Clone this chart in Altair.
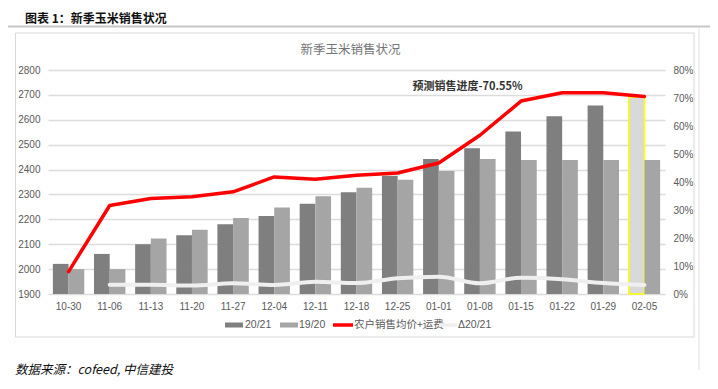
import altair as alt
import pandas as pd

# ---------------- data ----------------
dates = ["10-30", "11-06", "11-13", "11-20", "11-27", "12-04", "12-11", "12-18",
         "12-25", "01-01", "01-08", "01-15", "01-22", "01-29", "02-05"]
s2021 = [2021, 2061, 2100, 2136, 2180, 2213, 2263, 2309, 2375, 2442, 2486, 2553, 2614, 2657, 2692]
s1920 = [2000, 2000, 2123, 2158, 2205, 2248, 2293, 2327, 2359, 2394, 2442, 2438, 2438, 2438, 2438]
farm_price = [0.080, 0.316, 0.341, 0.347, 0.365, 0.418, 0.410, 0.424, 0.432, 0.468,
              0.567, 0.689, 0.719, 0.719, 0.7055]
delta = [None, 0.033, 0.033, 0.030, 0.038, 0.032, 0.044, 0.039, 0.056, 0.062,
         0.038, 0.058, 0.053, 0.039, 0.032]
series_names = ["20/21", "19/20", "农户销售均价+运费", "Δ20/21"]
left_ticks = [1900, 2000, 2100, 2200, 2300, 2400, 2500, 2600, 2700, 2800]
right_ticks = [0, 0.1, 0.2, 0.3, 0.4, 0.5, 0.6, 0.7, 0.8]

header = "图表 1：新季玉米销售状况"
chart_title = "新季玉米销售状况"
annotation = "预测销售进度-70.55%"
source = "数据来源：cofeed,  中信建投"

# ---------------- tables ----------------
rows = []
for d, a, b in zip(dates, s2021, s1920):
    rows.append({"date": d, "series": "20/21", "value": a,
                 "key": "forecast" if d == "02-05" else "20/21"})
    rows.append({"date": d, "series": "19/20", "value": b, "key": "19/20"})
bars_df = pd.DataFrame(rows)
lines_df = pd.DataFrame({"date": dates, "red": farm_price, "delta": delta})

W, H = 617, 224
CJK = "Noto Sans CJK SC"
LAT = "Liberation Sans"
LBL = "#595959"

x_scale = alt.Scale(domain=dates, paddingInner=0.237, paddingOuter=0.1185)
x_axis = alt.Axis(title=None, labelAngle=0, ticks=False, domain=False, labelPadding=7,
                  labelFontSize=10, labelColor=LBL, labelFont=LAT, grid=False)

bars = alt.Chart(bars_df).mark_bar(strokeWidth=1.5).encode(
    x=alt.X("date:N", sort=dates, scale=x_scale, axis=x_axis),
    xOffset=alt.XOffset("series:N", sort=["20/21", "19/20"],
                        scale=alt.Scale(domain=["20/21", "19/20"], paddingInner=0, paddingOuter=0)),
    y=alt.Y("value:Q", scale=alt.Scale(domain=[1900, 2800], zero=False, nice=False),
            axis=alt.Axis(values=left_ticks, format="d", title=None, ticks=False, domain=False,
                          gridColor="#dcdcdc", gridWidth=1.5, labelColor=LBL, labelFont=LAT,
                          labelFontSize=10, labelPadding=8, orient="left")),
    y2=alt.datum(1900),
    fill=alt.Fill("key:N", scale=alt.Scale(domain=["20/21", "19/20", "forecast"],
                                           range=["#7f7f7f", "#a5a5a5", "#d9d9d9"]), legend=None),
    stroke=alt.condition("datum.key == 'forecast'", alt.value("#ffff00"), alt.value("transparent")),
)

red_line = alt.Chart(lines_df).mark_line(color="#ff0000", strokeWidth=3.5, strokeCap="round",
                                         strokeJoin="round").encode(
    x=alt.X("date:N", sort=dates, scale=x_scale, axis=x_axis, bandPosition=0.5),
    y=alt.Y("red:Q", scale=alt.Scale(domain=[0, 0.8], nice=False),
            axis=alt.Axis(orient="right", format=".0%", values=right_ticks, grid=False, ticks=False,
                          domain=False, title=None, labelColor=LBL, labelFont=LAT,
                          labelFontSize=10, labelPadding=8)),
)

white_line = alt.Chart(lines_df).mark_line(color="#efefef", strokeWidth=4, strokeCap="round",
                                           interpolate="monotone").encode(
    x=alt.X("date:N", sort=dates, scale=x_scale, axis=x_axis, bandPosition=0.5),
    y=alt.Y("delta:Q", scale=alt.Scale(domain=[0, 0.8], nice=False), axis=None),
)

one = alt.Data(values=[{}])


def txt(s, x, y, **kw):
    return alt.Chart(one).mark_text(text=s, **kw).encode(x=alt.value(x), y=alt.value(y))


box = alt.Chart(one).mark_rect(fill="transparent", stroke="#d9d9d9", strokeWidth=1).encode(
    x=alt.value(-32.5), x2=alt.value(646), y=alt.value(-37), y2=alt.value(267))
sep = alt.Chart(one).mark_rule(color="#c8c8c8", strokeWidth=2).encode(
    x=alt.value(-41), x2=alt.value(662), y=alt.value(-43.5))
vline = alt.Chart(one).mark_rule(color="#e0e0e0", strokeWidth=1).encode(
    x=alt.value(651), y=alt.value(-42.5), y2=alt.value(300))

head = txt(header, -23, -51.5, align="left", baseline="middle", font=CJK, fontSize=12,
           fontWeight="bold", color="#111111")
ctitle = txt(chart_title, 302.5, -20, align="center", baseline="middle", font=CJK,
             fontSize=12.5, color="#757575")
annot = txt(annotation, 419.5, 17, align="center", baseline="middle", font=CJK,
            fontSize=11, fontWeight="bold", color="#333333")
src = txt(source, -33, 300, align="left", baseline="middle", font=CJK, fontSize=12.5,
          fontStyle="italic", color="#111111")

# legend
ly = 255
leg = [
    alt.Chart(one).mark_rect(color="#7f7f7f").encode(
        x=alt.value(177), x2=alt.value(195), y=alt.value(ly - 2.5), y2=alt.value(ly + 2.5)),
    txt(series_names[0], 197, ly, align="left", baseline="middle", font=LAT, fontSize=10.5, color=LBL),
    alt.Chart(one).mark_rect(color="#a5a5a5").encode(
        x=alt.value(232), x2=alt.value(250), y=alt.value(ly - 2.5), y2=alt.value(ly + 2.5)),
    txt(series_names[1], 251, ly, align="left", baseline="middle", font=LAT, fontSize=10.5, color=LBL),
    alt.Chart(one).mark_rule(color="#ff0000", strokeWidth=3.5).encode(
        x=alt.value(285), x2=alt.value(305), y=alt.value(ly)),
    txt(series_names[2], 306, ly, align="left", baseline="middle", font=CJK, fontSize=10.5, color=LBL),
    alt.Chart(one).mark_rule(color="#efefef", strokeWidth=3.5).encode(
        x=alt.value(391), x2=alt.value(409), y=alt.value(ly)),
    txt(series_names[3], 410, ly, align="left", baseline="middle", font=LAT, fontSize=10.5, color=LBL),
]

chart = alt.layer(box, sep, vline, head, ctitle, bars, red_line, white_line, annot, src, *leg).resolve_scale(
    y="independent"
).properties(
    width=W, height=H,
    autosize=alt.AutoSizeParams(type="none"),
    padding={"left": 40, "top": 62, "right": 45, "bottom": 87},
    background="white",
).configure_view(strokeWidth=0)

chart.save("out.html", embed_options={"renderer": "svg", "actions": False})
